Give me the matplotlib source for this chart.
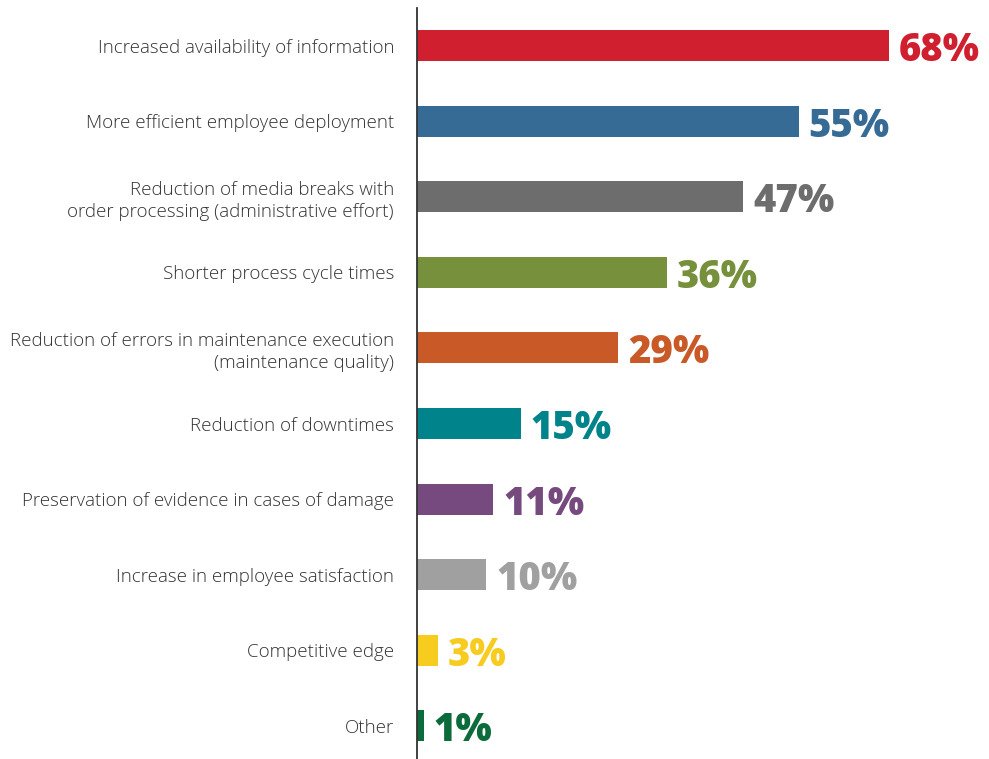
import matplotlib.pyplot as plt

# Survey results: benefits of digital maintenance processes
labels = [
    "Increased availability of information",
    "More efficient employee deployment",
    "Reduction of media breaks with\norder processing (administrative effort)",
    "Shorter process cycle times",
    "Reduction of errors in maintenance execution\n(maintenance quality)",
    "Reduction of downtimes",
    "Preservation of evidence in cases of damage",
    "Increase in employee satisfaction",
    "Competitive edge",
    "Other",
]
values = [68, 55, 47, 36, 29, 15, 11, 10, 3, 1]
colors = ["#D01F2F", "#356B94", "#6D6D6D", "#76903C", "#C95A27",
          "#00838A", "#764A7F", "#A0A0A0", "#F8CB1F", "#0C6B3A"]

fig = plt.figure(figsize=(9.89, 7.59), dpi=100)
ax = fig.add_axes([417 / 989, 0, 572 / 989, 1 - 8 / 759])

y = list(range(len(values)))
ax.barh(y, values, height=0.41, color=colors)

for yi, v, c in zip(y, values, colors):
    ax.text(v + 1.4, yi + 0.205, f"{v}%", color=c, fontsize=27.5, fontweight="heavy",
            family=["Open Sans", "DejaVu Sans"], va="baseline", ha="left")

ax.set_xlim(0, 572 / 6.94)
ax.set_ylim(9.437, -0.496)

ax.set_yticks(y)
ax.set_yticklabels(labels, fontsize=13.5, color="#333333",
                   family=["Open Sans", "DejaVu Sans"], fontweight="light",
                   linespacing=1.32)
ax.tick_params(axis="y", length=0, pad=16.5)
ax.set_xticks([])

for side in ["top", "right", "bottom"]:
    ax.spines[side].set_visible(False)
ax.spines["left"].set_linewidth(1.3)
ax.spines["left"].set_color("#333333")

fig.savefig("out.png", dpi=100)
